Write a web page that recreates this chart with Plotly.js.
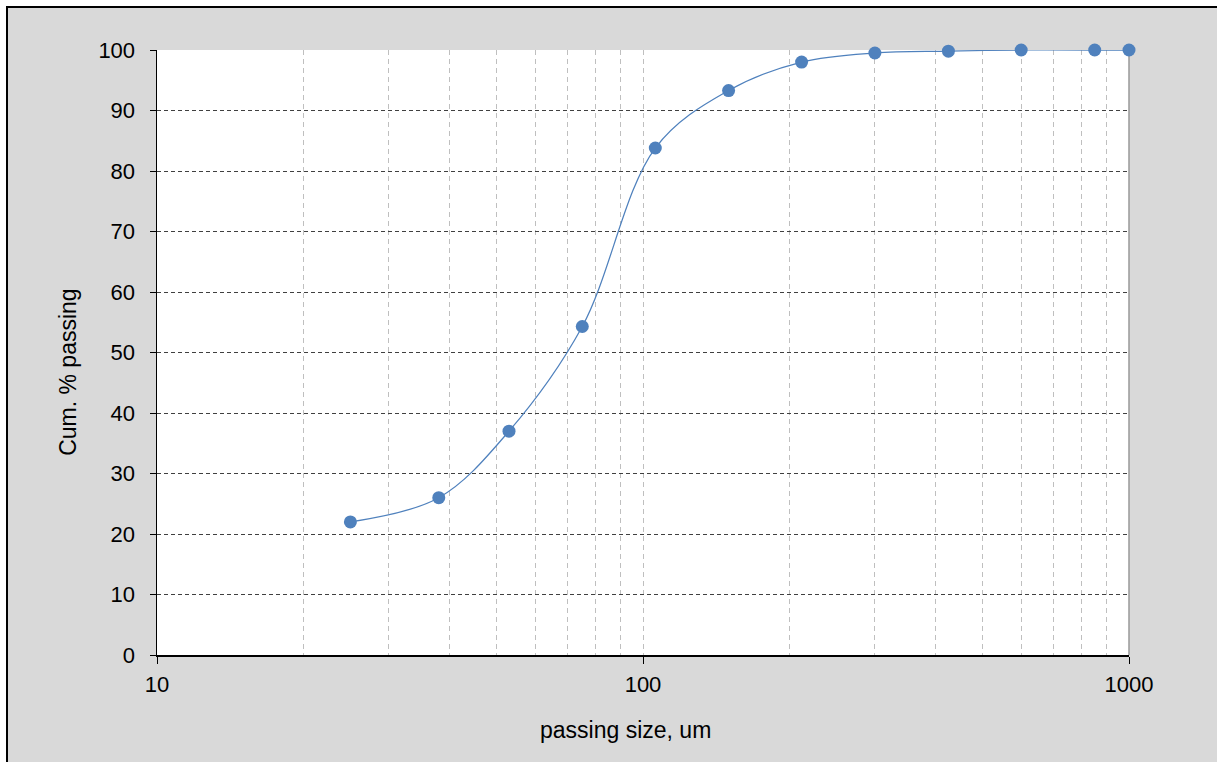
<!DOCTYPE html>
<html>
<head>
<meta charset="utf-8">
<script src="https://cdn.plot.ly/plotly-3.0.1.min.js"></script>
<style>
html,body{margin:0;padding:0;background:#ffffff;width:1217px;height:762px;overflow:hidden;}
#chart{position:absolute;left:6px;top:6px;width:1211px;height:756px;border-left:2px solid #000;border-top:2px solid #000;}
</style>
</head>
<body>
<div id="chart"></div>
<script>
// Passing size (um) and cumulative % passing
const sizes = [25, 38, 53, 75, 106, 150, 212, 300, 425, 600, 850, 1000];
const passing = [22.0, 26.0, 37.0, 54.3, 83.8, 93.3, 98.0, 99.5, 99.8, 100, 100, 100];

const xMajorTicks = [10, 100, 1000];
const xMinorTicks = [20, 30, 40, 50, 60, 70, 80, 90, 200, 300, 400, 500, 600, 700, 800, 900];
const yTicks = [0, 10, 20, 30, 40, 50, 60, 70, 80, 90, 100];
const xTitle = 'passing size, um';
const yTitle = 'Cum. % passing';

const trace = {
  x: sizes,
  y: passing,
  type: 'scatter',
  mode: 'lines+markers',
  line: {color: '#4f81bd', width: 1.25, shape: 'spline', smoothing: 1},
  marker: {color: '#4f81bd', size: 13},
  cliponaxis: false,
  hoverinfo: 'x+y'
};

const layout = {
  width: 1211,
  height: 756,
  paper_bgcolor: '#d9d9d9',
  plot_bgcolor: '#ffffff',
  margin: {l: 149, r: 90, t: 42, b: 109},
  showlegend: false,
  font: {family: '"Liberation Sans", Arial, sans-serif', size: 22, color: '#000000'},
  xaxis: {
    type: 'log',
    range: [1, 3],
    tickmode: 'array',
    tickvals: xMajorTicks,
    ticktext: xMajorTicks.map(String),
    ticks: 'outside',
    ticklen: 7,
    tickcolor: '#000',
    tickwidth: 1,
    ticklabelstandoff: 2,
    showline: true,
    linecolor: '#000',
    linewidth: 1.5,
    showgrid: true,
    gridcolor: '#bfbfbf',
    griddash: '5px,4px',
    gridwidth: 1,
    zeroline: false,
    tickfont: {size: 22},
    minor: {
      tickmode: 'array',
      tickvals: xMinorTicks,
      showgrid: true,
      gridcolor: '#bfbfbf',
      griddash: '5px,4px',
      gridwidth: 1,
      ticks: ''
    }
  },
  yaxis: {
    range: [0, 100],
    tickmode: 'array',
    tickvals: yTicks,
    ticks: 'outside',
    ticklen: 6,
    tickcolor: '#000',
    ticklabelstandoff: 10,
    showline: true,
    linecolor: '#000',
    linewidth: 1.5,
    showgrid: true,
    gridcolor: '#404040',
    griddash: '4px,3px',
    gridwidth: 1,
    zeroline: false,
    tickfont: {size: 22}
  },
  annotations: [
    {text: xTitle, xref: 'paper', yref: 'paper', x: 0.4815, y: -0.124,
     xanchor: 'center', yanchor: 'middle', showarrow: false, font: {size: 23}},
    {text: yTitle, xref: 'paper', yref: 'paper', x: -0.0916, y: 0.468, textangle: -90,
     xanchor: 'center', yanchor: 'middle', showarrow: false, font: {size: 23}}
  ],
  shapes: [
    {type: 'line', xref: 'paper', yref: 'paper', x0: 1, x1: 1, y0: 0, y1: 1,
     line: {color: '#999999', width: 1.5}, layer: 'below'}
  ]
};

Plotly.newPlot('chart', [trace], layout, {displayModeBar: false, staticPlot: true});
</script>
</body>
</html>
